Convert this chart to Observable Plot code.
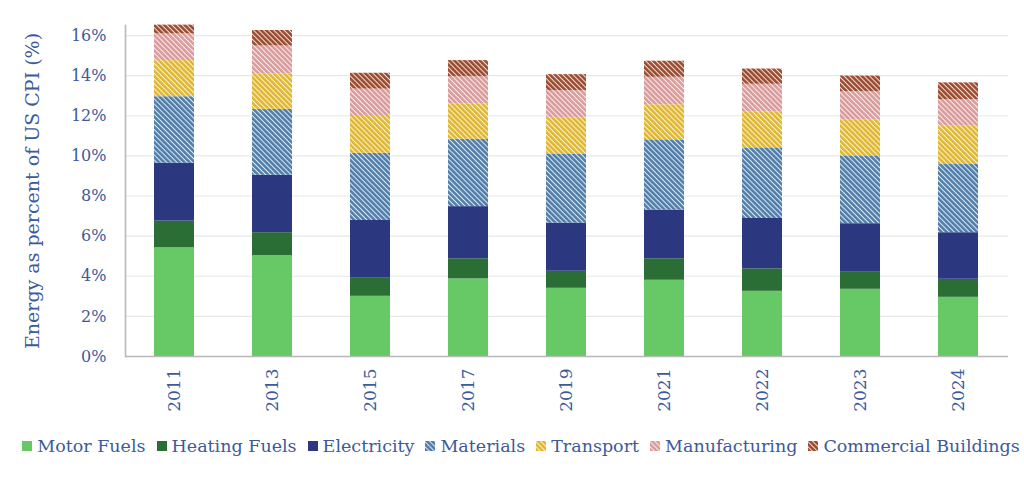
<!DOCTYPE html>
<html>
<head>
<meta charset="utf-8">
<script src="https://cdn.jsdelivr.net/npm/d3@7"></script>
<script src="https://cdn.jsdelivr.net/npm/@observablehq/plot@0.6"></script>
<style>
  html, body { margin: 0; padding: 0; background: #fff; }
  body { width: 1024px; height: 488px; overflow: hidden; font-family: "DejaVu Serif", serif; color: #3d5a9c; }
  #legend { display: flex; justify-content: center; align-items: center; gap: 11px; font-size: 17.5px; margin-top: 11px; padding-left: 18px; white-space: nowrap; }
  #legend .item { display: flex; align-items: center; gap: 5px; }
  #legend svg { display: block; }
</style>
</head>
<body>
<svg width="0" height="0" style="position:absolute">
  <defs id="patdefs"></defs>
</svg>
<div id="chart"></div>
<div id="legend"></div>
<script>
const years = ["2011","2013","2015","2017","2019","2021","2022","2023","2024"];
const series = ["Motor Fuels","Heating Fuels","Electricity","Materials","Transport","Manufacturing","Commercial Buildings"];
const motorFuels    = [5.42, 5.03, 3.00, 3.87, 3.40, 3.80, 3.25, 3.35, 2.95];
const heatingFuels  = [1.33, 1.14, 0.93, 1.00, 0.85, 1.07, 1.12, 0.85, 0.90];
const electricity   = [2.89, 2.86, 2.85, 2.60, 2.40, 2.43, 2.51, 2.42, 2.32];
const materials     = [3.31, 3.29, 3.35, 3.36, 3.42, 3.50, 3.52, 3.38, 3.40];
const transport     = [1.80, 1.76, 1.84, 1.75, 1.81, 1.75, 1.78, 1.80, 1.91];
const manufacturing = [1.33, 1.40, 1.36, 1.37, 1.37, 1.37, 1.39, 1.40, 1.33];
const commercial    = [0.44, 0.77, 0.79, 0.80, 0.80, 0.80, 0.76, 0.78, 0.83];
const yTicks = [0, 2, 4, 6, 8, 10, 12, 14, 16];

const seriesValues = [motorFuels, heatingFuels, electricity, materials, transport, manufacturing, commercial];
const baseColors = ["#66c966", "#2a6e36", "#2b3880", "#4f7eab", "#e0b72f", "#d99b9b", "#9c4b2f"];
const hatched = [false, false, false, true, true, true, true];

// patterns
const defs = d3.select("#patdefs");
const fills = series.map((s, i) => {
  if (!hatched[i]) return baseColors[i];
  const id = "pat" + i;
  const p = defs.append("pattern")
    .attr("id", id).attr("patternUnits", "userSpaceOnUse")
    .attr("width", 3.6).attr("height", 3.6)
    .attr("patternTransform", "rotate(45)");
  p.append("rect").attr("width", 3.6).attr("height", 3.6).attr("fill", baseColors[i]);
  p.append("rect").attr("x", 0).attr("y", 0).attr("width", 3.6).attr("height", 1.0).attr("fill", "#fff").attr("fill-opacity", 0.85);
  return `url(#${id})`;
});

const data = [];
years.forEach((y, j) => {
  series.forEach((s, i) => data.push({year: y, series: s, value: seriesValues[i][j]}));
});

const chart = Plot.plot({
  width: 1024,
  height: 425,
  marginLeft: 125,
  marginRight: 16,
  marginTop: 25,
  marginBottom: 69,
  style: {fontFamily: "DejaVu Serif, serif", fontSize: "16px", color: "#3d5a9c", background: "#fff", overflow: "visible"},
  x: {domain: years, paddingInner: 0.59, paddingOuter: 0.295},
  y: {domain: [0, 16.5]},
  color: {type: "ordinal", domain: series, range: fills},
  marks: [
    Plot.gridY(yTicks, {stroke: "#e8e8e8", strokeOpacity: 1, strokeWidth: 1.2}),
    Plot.barY(data, {x: "year", y: "value", fill: "series", order: series}),
    Plot.ruleY([0], {stroke: "#b8b8b8", strokeWidth: 1.6}),
    Plot.frame({anchor: "left", stroke: "#b8b8b8", strokeWidth: 1.6}),
    Plot.axisY(yTicks, {tickSize: 0, tickPadding: 19, tickFormat: d => d + "%", label: "Energy as percent of US CPI (%)", labelArrow: "none", labelAnchor: "center", labelOffset: 96}),
    Plot.axisX({tickSize: 0, tickPadding: 12, tickRotate: -90, label: null, fontSize: 17})
  ]
});
document.getElementById("chart").appendChild(chart);
d3.select(chart).selectAll('[aria-label="y-axis label"] text').style("font-size", "19px").attr("dy", "-4");

// legend
const legend = d3.select("#legend");
series.forEach((s, i) => {
  const it = legend.append("div").attr("class", "item");
  const sv = it.append("svg").attr("width", 10).attr("height", 10);
  sv.append("rect").attr("width", 10).attr("height", 10).attr("fill", fills[i]);
  it.append("span").text(s);
});
</script>
</body>
</html>
